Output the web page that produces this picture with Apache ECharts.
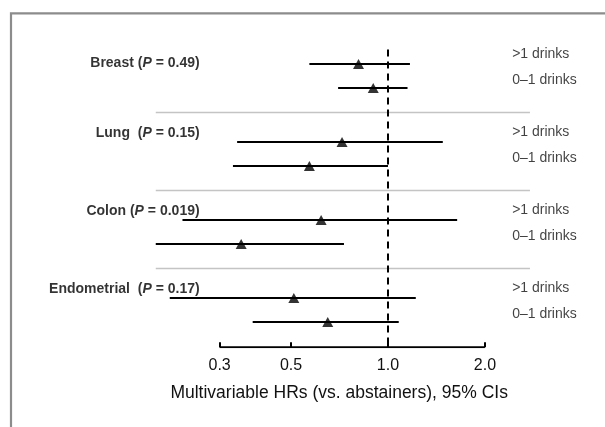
<!DOCTYPE html>
<html>
<head>
<meta charset="utf-8">
<script src="https://cdn.jsdelivr.net/npm/echarts@6/dist/echarts.min.js"></script>
<style>
  html, body { margin: 0; padding: 0; background: #fff; }
  #chart { width: 605px; height: 427px; }
</style>
</head>
<body>
<div id="chart"></div>
<script>
// data, one entry per cancer site; inner pairs are [>1 drinks, 0–1 drinks]
const sites = ['Breast', 'Lung ', 'Colon', 'Endometrial ']
const pValues = ['0.49', '0.15', '0.019', '0.17']
const intakeGroups = ['>1 drinks', '0–1 drinks']
const hr = [[0.81, 0.90], [0.72, 0.57], [0.62, 0.35], [0.51, 0.65]]
const ciLow = [[0.57, 0.70], [0.34, 0.33], [0.23, 0.19], [0.21, 0.38]]
const ciHigh = [[1.17, 1.15], [1.48, 1.00], [1.64, 0.73], [1.22, 1.08]]
const xTicks = [0.3, 0.5, 1.0, 2.0]

// layout
const groupGap = 3.25
const yMin = -0.6
const yMax = 11.8
const font = '"Liberation Sans", Arial, Helvetica, sans-serif'

function rowPos(g, j) {
  return g * groupGap + j
}

const pointData = []
const ciData = []
const rowLabelData = []
const siteLabelData = []
const sepData = []
sites.forEach((s, g) => {
  intakeGroups.forEach((name, j) => {
    const y = rowPos(g, j)
    pointData.push([hr[g][j], y])
    ciData.push([ciLow[g][j], ciHigh[g][j], y])
    rowLabelData.push({ value: [2.43, y], name: name })
  })
  siteLabelData.push({ value: [0.26, rowPos(g, 0)], name: s, p: pValues[g] })
  if (g > 0) {
    sepData.push([0.19, 2.76, rowPos(g, 0) - (groupGap - 1) / 2 - 0.1])
  }
})

const chart = echarts.init(document.getElementById('chart'))

function hLine(params, api, color, width) {
  const a = api.coord([api.value(0), api.value(2)])
  const b = api.coord([api.value(1), api.value(2)])
  return {
    type: 'line',
    shape: { x1: a[0], y1: a[1], x2: b[0], y2: b[1] },
    style: { stroke: color, lineWidth: width }
  }
}

chart.setOption({
  animation: false,
  backgroundColor: '#fff',
  textStyle: { fontFamily: font },
  graphic: [{
    type: 'rect',
    shape: { x: 11, y: 13.3, width: 700, height: 500 },
    style: { fill: 'none', stroke: '#8c8c8c', lineWidth: 2.2 },
    silent: true
  }],
  grid: { left: 122.7, right: 63.4, top: 49.6, bottom: 79.8 },
  xAxis: {
    type: 'log',
    logBase: 10,
    min: 0.15,
    max: 3,
    name: 'Multivariable HRs (vs. abstainers), 95% CIs',
    nameLocation: 'middle',
    nameGap: 37,
    nameTextStyle: { fontSize: 17.5, color: '#111', fontFamily: font, padding: [0, 0, 0, 14] },
    axisLine: { show: false, onZero: false },
    splitLine: { show: false },
    minorTick: { show: false },
    axisTick: {
      customValues: xTicks,
      inside: true,
      length: 5,
      lineStyle: { color: '#000', width: 2 }
    },
    axisLabel: {
      customValues: xTicks,
      formatter: v => Number(v).toFixed(1),
      fontSize: 16,
      color: '#111',
      margin: 10,
      fontFamily: font
    }
  },
  yAxis: {
    type: 'value',
    inverse: true,
    min: yMin,
    max: yMax,
    show: false
  },
  series: [
    {
      // group separators
      type: 'custom',
      data: sepData,
      encode: { x: [0, 1], y: 2 },
      clip: false,
      renderItem: (p, api) => hLine(p, api, '#c4c4c4', 1.5)
    },
    {
      // reference line at HR = 1
      type: 'line',
      data: [[1, yMin], [1, yMax]],
      symbol: 'none',
      lineStyle: { color: '#000', width: 2, type: [7, 5] }
    },
    {
      // bottom axis line between first and last tick
      type: 'line',
      data: [[xTicks[0], yMax], [xTicks[xTicks.length - 1], yMax]],
      symbol: 'none',
      lineStyle: { color: '#000', width: 2 }
    },
    {
      // confidence intervals
      type: 'custom',
      data: ciData,
      encode: { x: [0, 1], y: 2 },
      clip: false,
      renderItem: (p, api) => hLine(p, api, '#000', 2)
    },
    {
      type: 'scatter',
      data: pointData,
      symbol: 'triangle',
      symbolSize: [11, 10],
      itemStyle: { color: '#000' },
      z: 5
    },
    {
      // site names with P values
      type: 'scatter',
      data: siteLabelData,
      symbolSize: 0,
      clip: false,
      label: {
        show: true,
        position: 'left',
        distance: 0,
        formatter: p => '{b|' + p.data.name + ' (}{i|P}{b| = ' + p.data.p + ')}',
        rich: {
          b: { fontSize: 14, fontWeight: 'bold', color: '#000', fontFamily: font },
          i: { fontSize: 14, fontWeight: 'bold', fontStyle: 'italic', color: '#000', fontFamily: font }
        }
      },
      labelLayout: p => ({ dy: p.dataIndex === 0 ? -1 : -9 })
    },
    {
      // intake labels on the right
      type: 'scatter',
      data: rowLabelData,
      symbolSize: 0,
      clip: false,
      label: {
        show: true,
        position: 'right',
        distance: 0,
        formatter: p => p.data.name,
        fontSize: 14,
        color: '#111',
        fontFamily: font
      },
      labelLayout: p => ({ dy: p.dataIndex % 2 === 0 ? -10 : -8 })
    }
  ]
})
</script>
</body>
</html>
